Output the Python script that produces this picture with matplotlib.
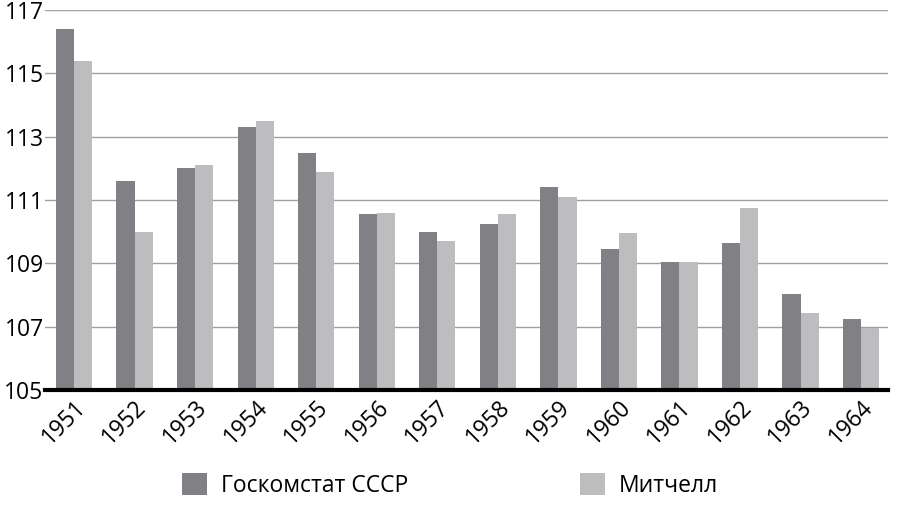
import matplotlib
matplotlib.use("Agg")
import matplotlib.pyplot as plt
import numpy as np

years = ["1951","1952","1953","1954","1955","1956","1957","1958","1959","1960","1961","1962","1963","1964"]
goskomstat = [116.4,111.6,112.0,113.3,112.5,110.55,110.0,110.25,111.4,109.45,109.05,109.65,108.05,107.25]
mitchell = [115.4,110.0,112.1,113.5,111.9,110.6,109.7,110.55,111.1,109.95,109.05,110.75,107.45,106.95]
yticks = [105,107,109,111,113,115,117]

plt.rcParams['font.family'] = ['Open Sans', 'DejaVu Sans']
fig = plt.figure(figsize=(9,5.08), dpi=100)
ax = fig.add_axes([0.05, 0.232, 0.937, 0.748])
x = np.arange(len(years))
w = 0.3
ax.bar(x - w/2, np.array(goskomstat) - 105, w, bottom=105, color='#808085', label='Госкомстат СССР', zorder=2)
ax.bar(x + w/2, np.array(mitchell) - 105, w, bottom=105, color='#bdbdbf', label='Митчелл', zorder=2)
ax.set_ylim(105, 117)
ax.set_xlim(-0.48, 13.45)
ax.set_yticks(yticks)
ax.set_yticklabels([str(v) for v in yticks], fontsize=16.5)
ax.yaxis.grid(True, color='#a0a0a0', linewidth=1, zorder=0)
ax.tick_params(axis='y', length=0, pad=1)
ax.tick_params(axis='x', length=0, pad=4)
ax.set_xticks(x)
ax.set_xticklabels(years, rotation=45, ha='right', rotation_mode='anchor', fontsize=16.5)
for s in ['top','right','left']:
    ax.spines[s].set_visible(False)
ax.spines['bottom'].set_linewidth(3)
ax.spines['bottom'].set_color('black')
fig.legend(loc='lower center', bbox_to_anchor=(0.5, -0.02), ncol=2, frameon=False,
           fontsize=16.5, handlelength=1.1, handleheight=1.1, columnspacing=7.5, handletextpad=0.6)
fig.savefig('out.png', dpi=100)
